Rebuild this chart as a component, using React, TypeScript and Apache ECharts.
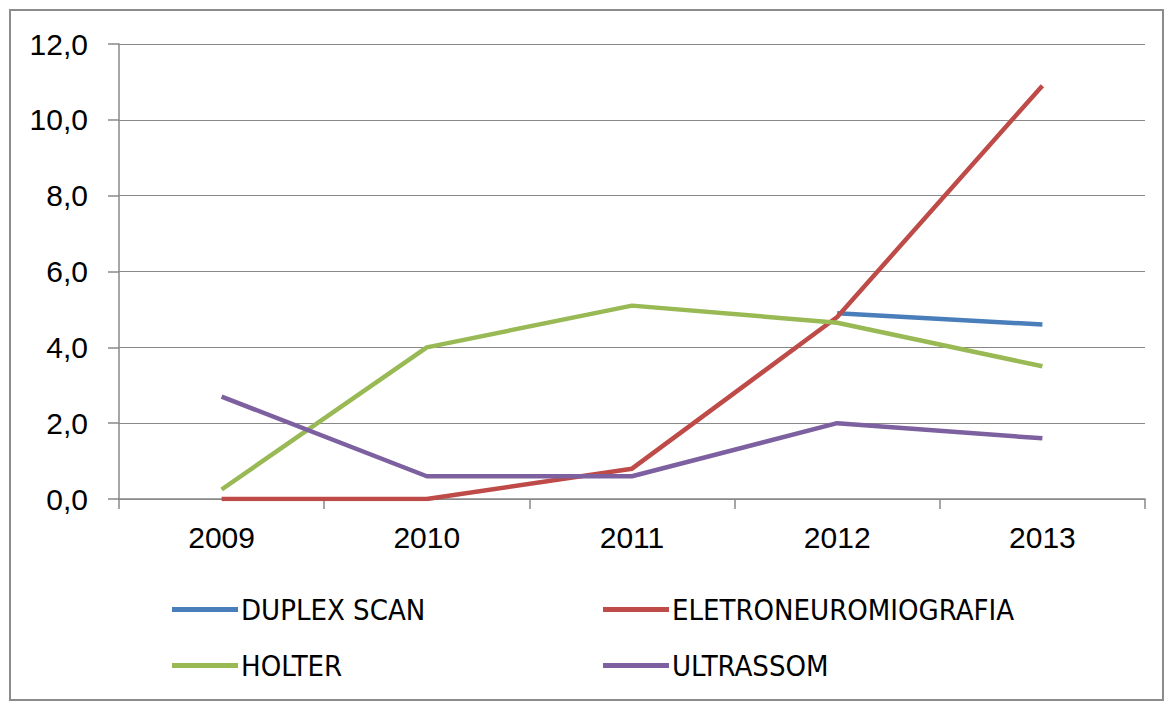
import React, { useEffect, useRef } from "react";
import * as echarts from "echarts";

const years = ["2009", "2010", "2011", "2012", "2013"];
const duplexScan = [null, null, null, 4.9, 4.6];
const eletroneuro = [0, 0, 0.8, 4.8, 10.9];
const holter = [0.25, 4.0, 5.1, 4.65, 3.5];
const ultrassom = [2.7, 0.6, 0.6, 2.0, 1.6];
const seriesNames = ["DUPLEX SCAN", "ELETRONEUROMIOGRAFIA", "HOLTER", "ULTRASSOM"];
const colors = ["#4A7EBB", "#BE4B48", "#98B954", "#7D60A0"];

export default function App() {
  const ref = useRef<HTMLDivElement>(null);
  useEffect(() => {
    if (!ref.current) return;
    const chart = echarts.init(ref.current, null, { renderer: "svg" });
    const values = [duplexScan, eletroneuro, holter, ultrassom];
    const legendPos = [
      { left: 172, top: 595 },
      { left: 603, top: 595 },
      { left: 172, top: 651 },
      { left: 603, top: 651 },
    ];
    chart.setOption({
      animation: false,
      backgroundColor: "#ffffff",
      color: colors,
      graphic: [
        {
          type: "rect",
          shape: { x: 10, y: 10, width: 1153, height: 690 },
          style: { fill: "none", stroke: "#8c8c8c", lineWidth: 2 },
          silent: true,
        },
      ],
      legend: seriesNames.map((n, i) => ({
        data: [n],
        left: legendPos[i].left,
        top: legendPos[i].top,
        icon: "rect",
        itemWidth: 66,
        itemHeight: 5,
        itemGap: 0,
        padding: 0,
        textStyle: {
          fontFamily: "'DejaVu Sans Condensed', 'Liberation Sans Narrow', 'Liberation Sans', sans-serif",
          fontSize: 29,
          color: "#000",
          padding: [0, 0, 0, -2],
        },
      })),
      grid: { left: 119, right: 25, top: 44, bottom: 210, containLabel: false },
      xAxis: {
        type: "category",
        data: years,
        boundaryGap: true,
        axisLine: { show: true, lineStyle: { color: "#888", width: 1.5 } },
        axisTick: { show: true, length: 10, lineStyle: { color: "#888", width: 1.5 } },
        axisLabel: {
          margin: 23,
          fontSize: 30,
          color: "#000",
          fontFamily: "'Liberation Sans', Arial, sans-serif",
        },
      },
      yAxis: {
        type: "value",
        min: 0,
        max: 12,
        interval: 2,
        axisLine: { show: true, lineStyle: { color: "#888", width: 1.5 } },
        axisTick: { show: true, length: 11, lineStyle: { color: "#888", width: 1.5 } },
        splitLine: { show: true, lineStyle: { color: "#888", width: 1.2 } },
        axisLabel: {
          margin: 31,
          fontSize: 30,
          color: "#000",
          fontFamily: "'Liberation Sans', Arial, sans-serif",
          formatter: (v: number) => v.toFixed(1).replace(".", ","),
        },
      },
      series: seriesNames.map((n, i) => ({
        name: n,
        type: "line",
        data: values[i],
        showSymbol: false,
        symbol: "none",
        lineStyle: { width: 4.5, color: colors[i] },
        itemStyle: { color: colors[i] },
        connectNulls: false,
      })),
    });
    return () => chart.dispose();
  }, []);
  return (
    <div
      ref={ref}
      style={{ position: "fixed", left: 0, top: 0, width: 1170, height: 709 }}
    />
  );
}
